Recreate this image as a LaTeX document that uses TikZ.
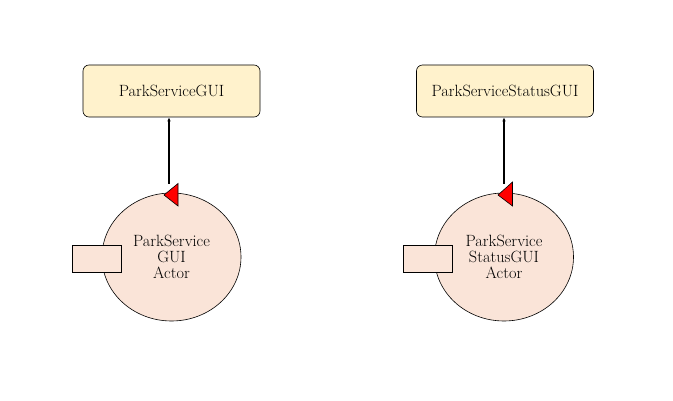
\documentclass[tikz,border=0pt]{standalone}
\usetikzlibrary{arrows.meta,shapes.geometric}
\definecolor{boxfill}{HTML}{FFF2CC}
\definecolor{actfill}{HTML}{FAE4D8}
\begin{document}
\begin{tikzpicture}[x=1pt,y=-1pt,
  lbl/.style={font=\fontsize{16.3}{16}\selectfont},
  guibox/.style={lbl,draw=black,fill=boxfill,rounded corners=6pt,minimum width=177pt,minimum height=52pt,inner sep=0pt,line width=0.6pt},
  actor/.style={lbl,draw=black,fill=actfill,ellipse,minimum width=139pt,minimum height=128pt,inner sep=0pt,align=center,line width=0.6pt},
  portbox/.style={draw=black,fill=actfill,minimum width=49pt,minimum height=27pt,inner sep=0pt,line width=0.6pt},
  redtri/.style={draw=black,fill=red,line width=0.6pt,line join=miter},
  conn/.style={line width=1.3pt,-{Latex[length=4pt,width=3.5pt]}}]
\useasboundingbox (0,0) rectangle (673,401);
% left
\node[guibox] (gui1) at (171.5,91) {ParkServiceGUI};
\node[actor] (act1) at (171.5,257) {ParkService\\GUI\\Actor};
\node[portbox] (pb1) at (96.5,258.5) {};
\draw[redtri] (164,195) -- (178,183.5) -- (178,206) -- cycle;
\coordinate (port1) at (169,184);
\draw[conn] (port1) -- (gui1.south -| port1);
% right
\node[guibox] (gui2) at (505,91) {ParkServiceStatusGUI};
\node[actor] (act2) at (504,257) {ParkService\\StatusGUI\\Actor};
\node[portbox] (pb2) at (427.5,258.5) {};
\draw[redtri] (498,195) -- (512.5,182) -- (512.5,206) -- cycle;
\coordinate (port2) at (504,184);
\draw[conn] (port2) -- (gui2.south -| port2);
\end{tikzpicture}
\end{document}
